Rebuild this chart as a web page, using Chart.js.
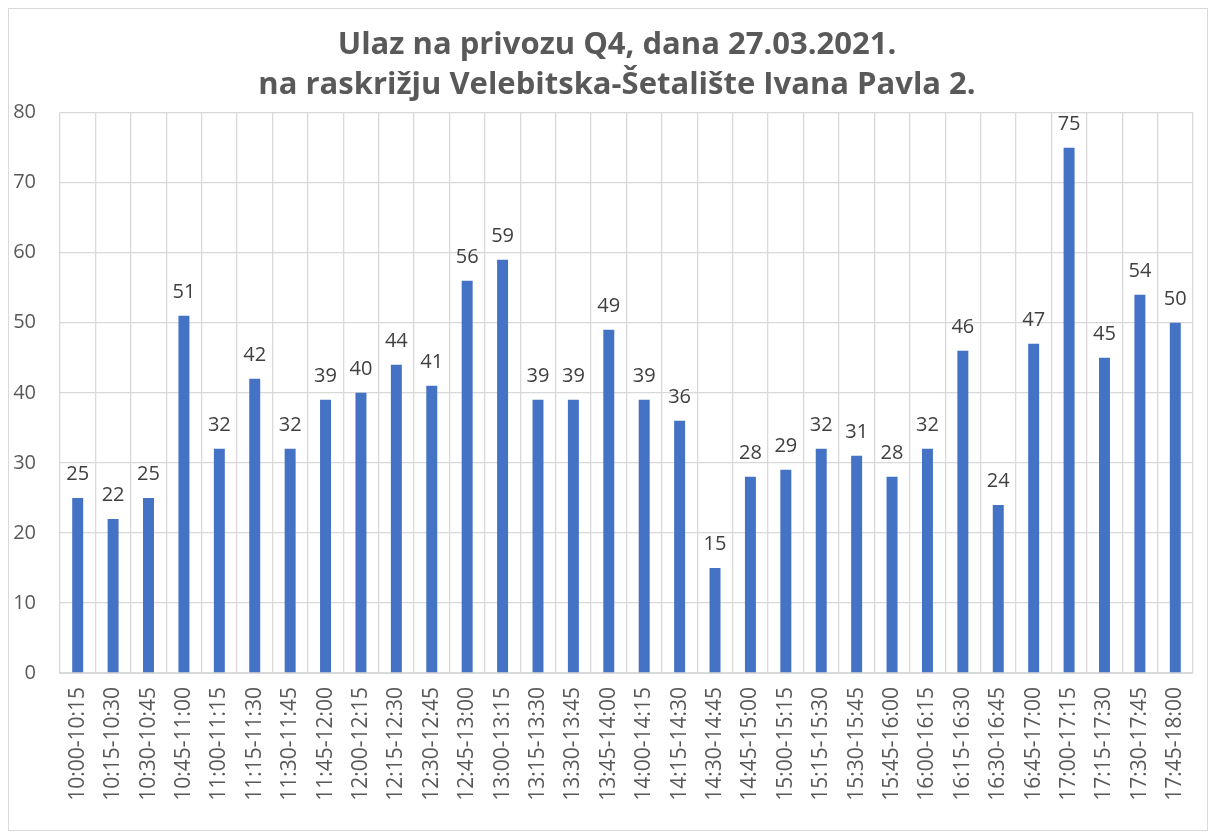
<!DOCTYPE html>
<html><head><meta charset="utf-8">
<script src="https://cdn.jsdelivr.net/npm/chart.js@4/dist/chart.umd.min.js"></script>
<style>
html,body{margin:0;padding:0;background:#fff;}
#box{position:absolute;left:8px;top:8px;width:1198px;height:821px;border:1px solid #d9d9d9;background:#fff;}
#wrap{position:absolute;left:0;top:0;width:1198px;height:821px;}
</style></head>
<body>
<div id="box"><div id="wrap"><canvas id="c"></canvas></div></div>
<script>
const categories = ["10:00-10:15","10:15-10:30","10:30-10:45","10:45-11:00","11:00-11:15","11:15-11:30","11:30-11:45","11:45-12:00","12:00-12:15","12:15-12:30","12:30-12:45","12:45-13:00","13:00-13:15","13:15-13:30","13:30-13:45","13:45-14:00","14:00-14:15","14:15-14:30","14:30-14:45","14:45-15:00","15:00-15:15","15:15-15:30","15:30-15:45","15:45-16:00","16:00-16:15","16:15-16:30","16:30-16:45","16:45-17:00","17:00-17:15","17:15-17:30","17:30-17:45","17:45-18:00"];
const values = [25,22,25,51,32,42,32,39,40,44,41,56,59,39,39,49,39,36,15,28,29,32,31,28,32,46,24,47,75,45,54,50];
const titleLines = ["Ulaz na privozu Q4, dana 27.03.2021.","na raskrižju Velebitska-Šetalište Ivana Pavla 2."];
const yMin = 0, yMax = 80, yStep = 10;

const FONT = "'Open Sans', sans-serif";
const valueLabels = {
  id: 'valueLabels',
  afterLayout(chart) {
    if (chart.titleBlock) { chart.titleBlock.left += 32; }
  },
  afterDatasetsDraw(chart) {
    const ctx = chart.ctx;
    const meta = chart.getDatasetMeta(0);
    ctx.save();
    ctx.font = "20px " + FONT;
    ctx.fillStyle = "#404040";
    ctx.textAlign = "center";
    ctx.textBaseline = "alphabetic";
    meta.data.forEach((bar, i) => {
      ctx.fillText(String(chart.data.datasets[0].data[i]), bar.x, bar.y - 18);
    });
    ctx.restore();
  }
};

new Chart(document.getElementById('c'), {
  type: 'bar',
  data: {
    labels: categories,
    datasets: [{ data: values, backgroundColor: '#4472C4', borderWidth: 0, barPercentage: 0.31, categoryPercentage: 1 }]
  },
  options: {
    responsive: true, maintainAspectRatio: false, animation: false,
    devicePixelRatio: 1,
    layout: { padding: { left: 0, right: 14, top: 0, bottom: 0 } },
    plugins: {
      legend: { display: false },
      tooltip: { enabled: false },
      title: {
        display: true, text: titleLines, color: '#595959',
        font: { family: FONT, size: 31, weight: 'bold', lineHeight: 1.3 },
        padding: { top: 16, bottom: 7 }
      }
    },
    scales: {
      x: {
        grid: { color: '#d9d9d9', lineWidth: 1.3, drawTicks: false, offset: true },
        border: { color: '#d9d9d9', width: 2 },
        ticks: { color: '#595959', font: { family: FONT, size: 21 }, maxRotation: 90, minRotation: 90, padding: 14, autoSkip: false },
        afterFit(scale) { scale.height = 157; scale.paddingLeft = 0; scale.paddingRight = 0; }
      },
      y: {
        min: yMin, max: yMax,
        grid: { color: '#d9d9d9', lineWidth: 1.3, drawTicks: false },
        border: { display: false },
        ticks: { stepSize: yStep, color: '#595959', font: { family: FONT, size: 20 }, padding: 24 },
        afterFit(scale) { scale.width = 51; }
      }
    }
  },
  plugins: [valueLabels]
});
</script>
</body></html>
